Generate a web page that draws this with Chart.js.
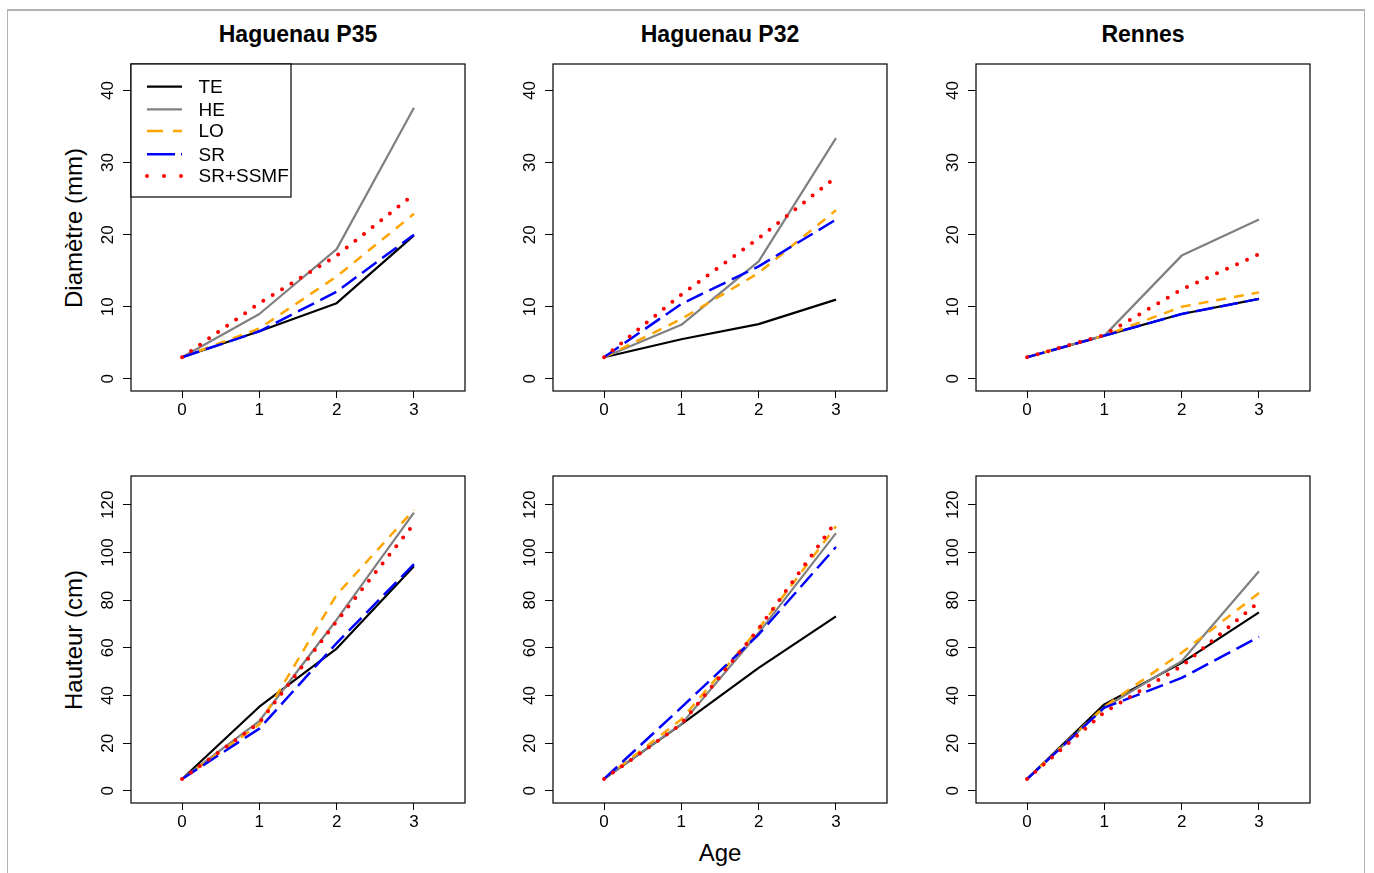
<!DOCTYPE html>
<html><head><meta charset="utf-8">
<script src="https://cdn.jsdelivr.net/npm/chart.js@4.4.1/dist/chart.umd.min.js"></script>
<style>
html,body{margin:0;padding:0;background:#fff;}
body{width:1374px;height:873px;position:relative;overflow:hidden;font-family:"Liberation Sans",Arial,Helvetica,sans-serif;color:#000;}
.frame{position:absolute;left:7px;top:9px;width:1358px;height:890px;border-top:2px solid #b3b3b3;border-left:1px solid #b3b3b3;border-right:1px solid #b3b3b3;box-sizing:border-box;}
canvas{position:absolute;}
.t{position:absolute;white-space:nowrap;transform:translate(-50%,-50%);line-height:1;}
.title{font-weight:bold;font-size:23px;}
.ylab{font-size:24px;transform:translate(-50%,-50%) rotate(-90deg);}
.xlab{font-size:24px;}
</style>
</head><body>
<div class="frame"></div>
<div class="t title" style="left:298px;top:34px">Haguenau P35</div>
<div class="t title" style="left:720px;top:34px">Haguenau P32</div>
<div class="t title" style="left:1143px;top:34px">Rennes</div>
<div class="t ylab" style="left:74px;top:228px">Diamètre (mm)</div>
<div class="t ylab" style="left:74px;top:640px">Hauteur (cm)</div>
<div class="t xlab" style="left:720px;top:853px">Age</div>
<script>
// ---- data ----
const ages = [0, 1, 2, 3];
const seriesNames = ['TE', 'HE', 'LO', 'SR', 'SR+SSMF'];
const siteNames = ['Haguenau P35', 'Haguenau P32', 'Rennes'];
const diamTicks = [0, 10, 20, 30, 40];
const heightTicks = [0, 20, 40, 60, 80, 100, 120];

// Diamètre (mm): rows = TE, HE, LO, SR, SR+SSMF
const diamP35 = [
  [3, 6.6, 10.5, 19.9],
  [3, 9.0, 18.0, 37.6],
  [3, 7.0, 14.2, 22.9],
  [3, 6.6, 12.1, 20.0],
  [3, 10.5, 17.1, 25.6]
];
const diamP32 = [
  [3, 5.5, 7.6, 11.0],
  [3, 7.5, 16.3, 33.4],
  [3, 8.3, 14.7, 23.4],
  [3, 10.4, 15.6, 22.1],
  [3, 11.7, 19.5, 28.0]
];
const diamRennes = [
  [3, 6.0, 9.0, 11.1],
  [3, 6.0, 17.1, 22.1],
  [3, 6.0, 10.0, 12.0],
  [3, 6.0, 9.0, 11.1],
  [3, 6.1, 12.4, 17.3]
];
// Hauteur (cm)
const heightP35 = [
  [5, 35.3, 59.7, 94.2],
  [5, 29.3, 71.8, 116.7],
  [5, 27.9, 82.3, 117.9],
  [5, 26.1, 62.0, 95.1],
  [5, 28.6, 71.1, 112.0]
];
const heightP32 = [
  [5, 27.9, 51.6, 73.2],
  [5, 28.0, 66.3, 108.1],
  [5, 30.0, 68.0, 111.0],
  [5, 35.0, 65.6, 102.3],
  [5, 28.0, 68.0, 113.0]
];
const heightRennes = [
  [5, 36.3, 53.7, 74.9],
  [5, 35.0, 54.4, 92.1],
  [5, 35.3, 57.9, 83.0],
  [5, 34.9, 47.4, 64.6],
  [5, 33.0, 52.3, 79.3]
];

// ---- styles / layout ----
const FONT = '"Liberation Sans", Arial, Helvetica, sans-serif';
const styles = [
  {color: '#000000', width: 2.2, dash: [], legendDash: [], cap: 'butt'},
  {color: '#808080', width: 2.2, dash: [], legendDash: [], cap: 'butt'},
  {color: '#FFA500', width: 2.5, dash: [10, 8], legendDash: [16, 10], cap: 'butt'},
  {color: '#0000FF', width: 2.5, dash: [18, 7], legendDash: [28, 6], cap: 'butt'},
  {color: '#FF0000', width: 4, dash: [0, 11], legendDash: [0, 17], cap: 'round'}
];
const boxLefts = [131, 553, 976];
const boxTops = [64, 476];
const boxW = 334, boxH = 327;
const padL = 70, padT = 10, padR = 12, padB = 40;

const panels = [
  {row: 0, col: 0, data: diamP35, ticks: diamTicks, min: -1.68, max: 43.68, legend: true},
  {row: 0, col: 1, data: diamP32, ticks: diamTicks, min: -1.68, max: 43.68},
  {row: 0, col: 2, data: diamRennes, ticks: diamTicks, min: -1.68, max: 43.68},
  {row: 1, col: 0, data: heightP35, ticks: heightTicks, min: -5.08, max: 132.08},
  {row: 1, col: 1, data: heightP32, ticks: heightTicks, min: -5.08, max: 132.08},
  {row: 1, col: 2, data: heightRennes, ticks: heightTicks, min: -5.08, max: 132.08}
];

const boxPlugin = {
  id: 'rbox',
  afterDraw(chart, args, opts) {
    const ctx = chart.ctx, a = chart.chartArea;
    ctx.save();
    ctx.strokeStyle = '#000';
    ctx.lineWidth = 1.2;
    ctx.setLineDash([]);
    ctx.strokeRect(a.left, a.top, a.right - a.left, a.bottom - a.top);
    // rotated y tick labels
    const ys = chart.scales.y;
    ctx.fillStyle = '#000';
    ctx.font = '17px ' + FONT;
    ctx.textAlign = 'center';
    ctx.textBaseline = 'middle';
    opts.ticks.forEach(v => {
      const py = ys.getPixelForValue(v);
      ctx.save();
      ctx.translate(a.left - 23, py);
      ctx.rotate(-Math.PI / 2);
      ctx.fillText(String(v), 0, 0);
      ctx.restore();
    });
    if (opts.legend) {
      const lw = 160, lh = 133;
      ctx.fillStyle = '#fff';
      ctx.fillRect(a.left, a.top, lw, lh);
      ctx.strokeStyle = '#000';
      ctx.lineWidth = 1.2;
      ctx.strokeRect(a.left, a.top, lw, lh);
      const rowY = [22.7, 45.3, 67, 90.3, 112];
      ctx.font = '19px ' + FONT;
      ctx.textAlign = 'left';
      ctx.textBaseline = 'middle';
      seriesNames.forEach((name, i) => {
        const s = styles[i];
        const y = a.top + rowY[i];
        ctx.beginPath();
        ctx.strokeStyle = s.color;
        ctx.lineWidth = s.width;
        ctx.lineCap = s.cap;
        ctx.setLineDash(s.legendDash);
        ctx.moveTo(a.left + 16, y);
        ctx.lineTo(a.left + 51, y);
        ctx.stroke();
        ctx.setLineDash([]);
        ctx.fillStyle = '#000';
        ctx.fillText(name, a.left + 67.5, y + 1);
      });
    }
    ctx.restore();
  }
};

panels.forEach(p => {
  const cv = document.createElement('canvas');
  const W = padL + boxW + padR, H = padT + boxH + padB;
  cv.width = W; cv.height = H;
  cv.style.width = W + 'px'; cv.style.height = H + 'px';
  cv.style.left = (boxLefts[p.col] - padL) + 'px';
  cv.style.top = (boxTops[p.row] - padT) + 'px';
  document.body.appendChild(cv);
  const datasets = p.data.map((vals, i) => ({
    label: seriesNames[i],
    data: vals.map((v, j) => ({x: ages[j], y: v})),
    borderColor: styles[i].color,
    backgroundColor: styles[i].color,
    borderWidth: styles[i].width,
    borderDash: styles[i].dash,
    borderCapStyle: styles[i].cap,
    borderJoinStyle: 'round',
    pointRadius: 0,
    tension: 0,
    fill: false,
    order: seriesNames.length - i
  }));
  new Chart(cv, {
    type: 'line',
    data: {datasets},
    options: {
      responsive: false,
      animation: false,
      devicePixelRatio: 1,
      layout: {padding: {left: 0, top: padT, right: padR, bottom: 0}},
      plugins: {legend: {display: false}, tooltip: {enabled: false}, rbox: {ticks: p.ticks, legend: !!p.legend}},
      scales: {
        x: {
          type: 'linear', min: -0.66, max: 3.66,
          afterBuildTicks: s => { s.ticks = ages.map(v => ({value: v})); },
          afterFit: s => { s.height = padB; },
          grid: {display: true, drawOnChartArea: false, drawTicks: true, tickLength: 7, color: '#000', tickColor: '#000', lineWidth: 1},
          border: {display: false},
          ticks: {color: '#000', font: {size: 17, family: FONT}, padding: 2, maxRotation: 0, autoSkip: false}
        },
        y: {
          type: 'linear', min: p.min, max: p.max,
          afterBuildTicks: s => { s.ticks = p.ticks.map(v => ({value: v})); },
          afterFit: s => { s.width = padL; },
          grid: {display: true, drawOnChartArea: false, drawTicks: true, tickLength: 8, color: '#000', tickColor: '#000', lineWidth: 1},
          border: {display: false},
          ticks: {display: false}
        }
      }
    },
    plugins: [boxPlugin]
  });
});
</script>
</body></html>
